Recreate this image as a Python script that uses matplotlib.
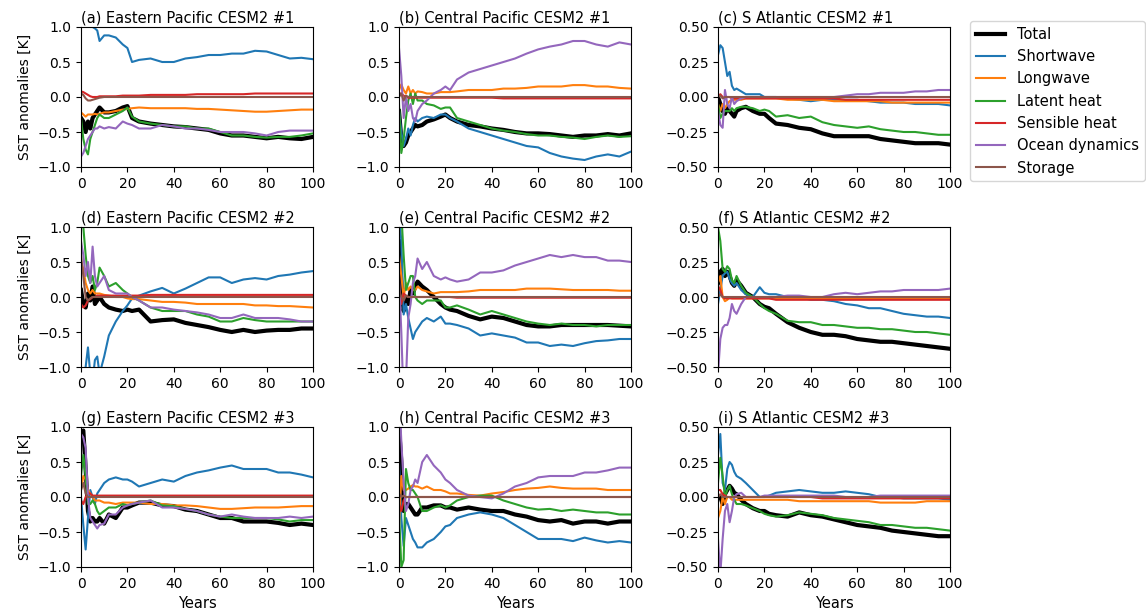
import matplotlib
matplotlib.use("Agg")
import matplotlib.pyplot as plt

years = [0, 1, 2, 3, 4, 5, 6, 7, 8, 10, 12, 15, 18, 20, 22, 25, 30, 35, 40, 45,
         50, 55, 60, 65, 70, 75, 80, 85, 90, 95, 100]

names = ["Total", "Shortwave", "Longwave", "Latent heat", "Sensible heat",
         "Ocean dynamics", "Storage"]

# (a) Eastern Pacific CESM2 #1
a_total = [-0.3, -0.35, -0.5, -0.35, -0.45, -0.3, -0.25, -0.2, -0.15, -0.22, -0.22, -0.2, -0.15, -0.13, -0.3, -0.35, -0.38, -0.4, -0.42, -0.43, -0.45, -0.47, -0.52, -0.55, -0.55, -0.57, -0.59, -0.57, -0.59, -0.6, -0.57]
a_sw = [1.6, 1.2, 1.1, 1.05, 1.0, 1.0, 0.98, 0.95, 0.8, 0.88, 0.88, 0.85, 0.75, 0.7, 0.5, 0.53, 0.55, 0.5, 0.5, 0.55, 0.57, 0.6, 0.6, 0.62, 0.62, 0.66, 0.65, 0.6, 0.55, 0.56, 0.54]
a_lw = [-0.22, -0.25, -0.28, -0.25, -0.25, -0.25, -0.24, -0.25, -0.24, -0.22, -0.22, -0.2, -0.18, -0.17, -0.16, -0.15, -0.16, -0.16, -0.16, -0.16, -0.17, -0.17, -0.18, -0.19, -0.2, -0.21, -0.21, -0.2, -0.19, -0.18, -0.18]
a_lh = [-0.3, -0.6, -0.75, -0.82, -0.6, -0.5, -0.4, -0.3, -0.25, -0.3, -0.3, -0.25, -0.2, -0.15, -0.28, -0.35, -0.38, -0.4, -0.42, -0.42, -0.45, -0.45, -0.5, -0.55, -0.55, -0.57, -0.58, -0.57, -0.57, -0.55, -0.52]
a_sh = [0.08, 0.07, 0.05, 0.03, 0.01, 0.0, 0.0, 0.0, 0.01, 0.01, 0.01, 0.01, 0.02, 0.02, 0.02, 0.02, 0.03, 0.03, 0.03, 0.03, 0.04, 0.04, 0.04, 0.04, 0.04, 0.05, 0.05, 0.05, 0.05, 0.05, 0.05]
a_od = [-0.85, -0.8, -0.7, -0.6, -0.55, -0.5, -0.45, -0.45, -0.42, -0.45, -0.43, -0.45, -0.35, -0.38, -0.4, -0.45, -0.45, -0.4, -0.42, -0.45, -0.45, -0.47, -0.5, -0.5, -0.5, -0.52, -0.55, -0.5, -0.48, -0.48, -0.48]
a_st = [0.05, 0.03, -0.02, -0.05, -0.05, -0.04, -0.03, -0.02, -0.01, 0.0, 0.0, 0.0, 0.0, 0.0, 0.0, 0.0, 0.0, 0.0, 0.0, 0.0, 0.0, 0.0, 0.0, 0.0, 0.0, 0.0, 0.0, 0.0, 0.0, 0.0, 0.0]

# (b) Central Pacific CESM2 #1
b_total = [-0.2, -0.6, -0.7, -0.65, -0.55, -0.5, -0.45, -0.4, -0.42, -0.4, -0.35, -0.32, -0.28, -0.25, -0.3, -0.35, -0.4, -0.42, -0.45, -0.47, -0.5, -0.52, -0.52, -0.53, -0.55, -0.57, -0.55, -0.55, -0.53, -0.55, -0.52]
b_sw = [-0.2, -0.5, -0.7, -0.6, -0.45, -0.55, -0.4, -0.3, -0.35, -0.3, -0.28, -0.3, -0.25, -0.25, -0.3, -0.35, -0.45, -0.5, -0.55, -0.6, -0.65, -0.7, -0.72, -0.8, -0.85, -0.88, -0.9, -0.85, -0.82, -0.85, -0.78]
b_lw = [0.1, 0.18, 0.1, 0.05, 0.15, 0.05, 0.1, 0.05, 0.08, 0.07, 0.05, 0.05, 0.07, 0.07, 0.07, 0.08, 0.1, 0.1, 0.1, 0.12, 0.12, 0.13, 0.15, 0.15, 0.15, 0.17, 0.17, 0.15, 0.15, 0.13, 0.12]
b_lh = [-0.1, -0.8, -0.6, -0.3, -0.05, 0.05, -0.1, 0.05, -0.05, -0.05, -0.1, -0.12, -0.17, -0.15, -0.15, -0.3, -0.35, -0.4, -0.45, -0.48, -0.5, -0.53, -0.55, -0.55, -0.57, -0.58, -0.6, -0.57, -0.55, -0.57, -0.56]
b_sh = [0.05, 0.05, 0.02, 0.0, -0.01, -0.01, -0.01, -0.01, -0.01, -0.01, -0.01, -0.01, -0.01, -0.01, -0.01, -0.01, -0.01, -0.01, -0.01, -0.02, -0.02, -0.02, -0.02, -0.02, -0.02, -0.02, -0.02, -0.02, -0.02, -0.02, -0.02]
b_od = [0.7, 0.3, -0.3, 0.0, -0.2, -0.1, -0.3, -0.35, -0.2, -0.1, -0.05, 0.05, 0.1, 0.15, 0.1, 0.25, 0.35, 0.4, 0.45, 0.5, 0.55, 0.62, 0.68, 0.72, 0.75, 0.8, 0.8, 0.75, 0.72, 0.78, 0.75]
b_st = [0.0, 0.05, -0.05, 0.02, 0.0, 0.0, 0.0, 0.0, 0.0, 0.0, 0.0, 0.0, 0.0, 0.0, 0.0, 0.0, 0.0, 0.0, 0.0, 0.0, 0.0, 0.0, 0.0, 0.0, 0.0, 0.0, 0.0, 0.0, 0.0, 0.0, 0.0]

# (c) S Atlantic CESM2 #1
c_total = [0.0, -0.05, -0.1, -0.12, -0.08, -0.1, -0.12, -0.14, -0.1, -0.08, -0.07, -0.1, -0.12, -0.12, -0.15, -0.19, -0.2, -0.22, -0.23, -0.26, -0.28, -0.28, -0.28, -0.28, -0.3, -0.31, -0.32, -0.33, -0.33, -0.33, -0.34]
c_sw = [0.3, 0.37, 0.35, 0.25, 0.15, 0.18, 0.08, 0.05, 0.06, 0.04, 0.02, 0.02, 0.02, 0.0, 0.0, 0.0, -0.01, -0.02, -0.03, -0.02, -0.02, -0.02, -0.02, -0.03, -0.04, -0.04, -0.04, -0.05, -0.05, -0.05, -0.06]
c_lw = [-0.05, -0.1, -0.05, -0.08, -0.05, -0.03, -0.02, -0.02, -0.02, -0.02, -0.01, -0.01, -0.01, -0.01, -0.01, -0.01, -0.02, -0.02, -0.02, -0.02, -0.03, -0.03, -0.03, -0.03, -0.03, -0.04, -0.04, -0.04, -0.04, -0.04, -0.04]
c_lh = [-0.05, -0.15, -0.12, -0.1, -0.1, -0.1, -0.08, -0.1, -0.08, -0.07, -0.07, -0.08, -0.1, -0.09, -0.1, -0.14, -0.13, -0.15, -0.14, -0.18, -0.2, -0.21, -0.22, -0.21, -0.23, -0.24, -0.25, -0.25, -0.26, -0.27, -0.27]
c_sh = [0.0, 0.02, 0.0, -0.01, 0.0, 0.0, -0.01, -0.01, -0.01, -0.01, -0.01, -0.01, -0.01, -0.01, -0.01, -0.01, -0.01, -0.01, -0.01, -0.01, -0.01, -0.02, -0.02, -0.02, -0.02, -0.02, -0.02, -0.02, -0.02, -0.02, -0.02]
c_od = [-0.1, -0.2, -0.22, 0.05, -0.05, -0.08, 0.0, -0.05, -0.03, -0.01, 0.0, 0.0, 0.0, 0.0, 0.0, 0.0, 0.0, 0.0, 0.0, 0.0, 0.0, 0.01, 0.02, 0.02, 0.03, 0.03, 0.03, 0.04, 0.04, 0.05, 0.05]
c_st = [0.0, 0.01, -0.01, 0.0, 0.0, 0.0, 0.0, 0.0, 0.0, 0.0, 0.0, 0.0, 0.0, 0.0, 0.0, 0.0, 0.0, 0.0, 0.0, 0.0, 0.0, 0.0, 0.0, 0.0, 0.0, 0.0, 0.0, 0.0, 0.0, 0.0, 0.0]

# (d) Eastern Pacific CESM2 #2
d_total = [0.1, -0.1, -0.15, 0.05, -0.05, 0.15, -0.1, -0.05, 0.0, -0.1, -0.15, -0.18, -0.2, -0.18, -0.2, -0.18, -0.35, -0.33, -0.32, -0.37, -0.4, -0.43, -0.47, -0.5, -0.47, -0.5, -0.48, -0.47, -0.47, -0.45, -0.45]
d_sw = [-1.5, -1.3, -1.0, -0.72, -1.1, -1.2, -0.9, -0.85, -1.1, -0.85, -0.55, -0.35, -0.2, -0.12, -0.02, 0.02, 0.08, 0.13, 0.05, 0.12, 0.2, 0.28, 0.28, 0.2, 0.25, 0.27, 0.25, 0.3, 0.32, 0.35, 0.37]
d_lw = [0.5, 0.4, 0.2, 0.1, 0.05, 0.1, 0.05, 0.05, 0.05, 0.03, 0.02, 0.0, 0.0, -0.02, -0.03, -0.03, -0.05, -0.07, -0.07, -0.08, -0.1, -0.1, -0.1, -0.1, -0.1, -0.12, -0.12, -0.13, -0.13, -0.14, -0.15]
d_lh = [1.2, 1.0, 0.6, 0.3, 0.2, 0.3, 0.1, 0.2, 0.42, 0.3, 0.15, 0.2, 0.1, 0.05, 0.0, -0.05, -0.15, -0.2, -0.2, -0.2, -0.25, -0.28, -0.35, -0.35, -0.3, -0.33, -0.35, -0.35, -0.35, -0.35, -0.35]
d_sh = [-0.1, -0.15, -0.12, -0.05, -0.03, 0.0, 0.0, 0.02, 0.02, 0.02, 0.02, 0.02, 0.02, 0.02, 0.02, 0.02, 0.03, 0.03, 0.03, 0.03, 0.03, 0.03, 0.03, 0.03, 0.03, 0.03, 0.03, 0.03, 0.03, 0.03, 0.03]
d_od = [0.8, 0.6, 0.3, 0.5, 0.2, 0.72, 0.3, 0.15, 0.2, 0.3, 0.1, 0.05, 0.05, 0.05, 0.0, -0.05, -0.15, -0.15, -0.18, -0.2, -0.22, -0.25, -0.3, -0.3, -0.25, -0.3, -0.3, -0.3, -0.32, -0.35, -0.35]
d_st = [0.6, 0.3, 0.0, -0.05, -0.02, 0.0, 0.0, 0.0, 0.0, 0.0, 0.0, 0.0, 0.0, 0.0, 0.0, 0.0, 0.0, 0.0, 0.0, 0.0, 0.0, 0.0, 0.0, 0.0, 0.0, 0.0, 0.0, 0.0, 0.0, 0.0, 0.0]

# (e) Central Pacific CESM2 #2
e_total = [0.8, 0.2, -0.2, 0.0, -0.1, 0.1, 0.05, 0.15, 0.22, 0.15, 0.1, 0.0, -0.1, -0.15, -0.18, -0.2, -0.27, -0.32, -0.28, -0.3, -0.35, -0.4, -0.42, -0.42, -0.4, -0.4, -0.4, -0.4, -0.4, -0.41, -0.42]
e_sw = [1.2, 0.8, -0.25, -0.1, -0.3, -0.45, -0.6, -0.5, -0.45, -0.35, -0.3, -0.35, -0.28, -0.38, -0.38, -0.4, -0.45, -0.55, -0.52, -0.55, -0.58, -0.65, -0.65, -0.7, -0.68, -0.7, -0.66, -0.63, -0.62, -0.6, -0.6]
e_lw = [0.6, 0.3, 0.0, 0.2, 0.1, 0.15, 0.1, 0.1, 0.15, 0.1, 0.08, 0.05, 0.07, 0.07, 0.07, 0.07, 0.08, 0.1, 0.1, 0.1, 0.1, 0.12, 0.12, 0.12, 0.11, 0.1, 0.1, 0.1, 0.1, 0.09, 0.09]
e_lh = [1.0, 1.2, 0.6, 0.1, 0.2, 0.3, 0.3, 0.0, -0.05, -0.1, -0.05, -0.05, -0.05, -0.15, -0.15, -0.12, -0.18, -0.25, -0.2, -0.25, -0.3, -0.35, -0.38, -0.4, -0.38, -0.4, -0.4, -0.42, -0.4, -0.4, -0.4]
e_sh = [0.05, -0.1, 0.05, 0.02, 0.0, 0.0, 0.0, 0.0, 0.0, 0.0, 0.0, 0.0, 0.0, 0.0, 0.0, -0.01, -0.01, -0.01, -0.01, -0.01, -0.01, -0.01, -0.01, -0.01, -0.01, -0.01, -0.01, -0.01, -0.01, -0.01, -0.01]
e_od = [0.3, -0.5, -1.5, -1.2, -0.3, -0.1, 0.2, 0.3, 0.55, 0.4, 0.5, 0.3, 0.25, 0.28, 0.25, 0.22, 0.25, 0.35, 0.35, 0.38, 0.45, 0.5, 0.55, 0.6, 0.57, 0.6, 0.57, 0.57, 0.52, 0.52, 0.5]
e_st = [0.1, 0.0, -0.05, 0.02, 0.0, 0.0, 0.0, 0.0, 0.0, 0.0, 0.0, 0.0, 0.0, 0.0, 0.0, 0.0, 0.0, 0.0, 0.0, 0.0, 0.0, 0.0, 0.0, 0.0, 0.0, 0.0, 0.0, 0.0, 0.0, 0.0, 0.0]

# (f) S Atlantic CESM2 #2
f_total = [0.1, 0.18, 0.2, 0.15, 0.18, 0.15, 0.1, 0.08, 0.12, 0.08, 0.03, 0.0, -0.05, -0.07, -0.08, -0.12, -0.18, -0.22, -0.25, -0.27, -0.27, -0.28, -0.3, -0.31, -0.32, -0.32, -0.33, -0.34, -0.35, -0.36, -0.37]
f_sw = [-0.05, 0.05, 0.15, 0.17, 0.18, 0.13, 0.1, 0.08, 0.1, 0.05, 0.02, 0.0, 0.07, 0.03, 0.02, 0.02, 0.0, 0.0, -0.02, -0.02, -0.03, -0.05, -0.06, -0.08, -0.08, -0.1, -0.12, -0.13, -0.14, -0.14, -0.15]
f_lw = [0.1, 0.15, 0.0, -0.03, -0.02, 0.0, -0.01, -0.01, -0.01, -0.01, -0.01, -0.01, -0.01, -0.01, -0.01, -0.01, -0.01, -0.01, -0.01, -0.01, -0.01, -0.01, -0.01, -0.01, -0.01, -0.01, -0.01, -0.01, -0.01, -0.01, -0.01]
f_lh = [0.5, 0.4, 0.2, 0.18, 0.22, 0.2, 0.12, 0.1, 0.15, 0.08, 0.03, 0.0, -0.05, -0.08, -0.1, -0.12, -0.17, -0.18, -0.18, -0.2, -0.2, -0.21, -0.22, -0.22, -0.23, -0.23, -0.24, -0.25, -0.25, -0.26, -0.27]
f_sh = [0.08, 0.05, 0.0, -0.01, -0.01, -0.01, -0.01, -0.01, -0.01, -0.01, -0.01, -0.01, -0.01, -0.01, -0.01, -0.02, -0.02, -0.02, -0.02, -0.02, -0.02, -0.02, -0.02, -0.02, -0.02, -0.02, -0.02, -0.02, -0.02, -0.02, -0.02]
f_od = [-0.55, -0.3, -0.22, -0.2, -0.2, -0.15, -0.05, -0.1, -0.12, -0.05, 0.0, 0.0, 0.0, 0.0, 0.0, 0.0, 0.01, 0.01, 0.0, 0.0, 0.02, 0.03, 0.02, 0.03, 0.04, 0.04, 0.05, 0.05, 0.05, 0.05, 0.06]
f_st = [0.0, 0.02, 0.0, 0.0, 0.0, 0.0, 0.0, 0.0, 0.0, 0.0, 0.0, 0.0, 0.0, 0.0, 0.0, 0.0, 0.0, 0.0, 0.0, 0.0, 0.0, 0.0, 0.0, 0.0, 0.0, 0.0, 0.0, 0.0, 0.0, 0.0, 0.0]

# (g) Eastern Pacific CESM2 #3
g_total = [0.9, 0.95, 0.4, -0.2, -0.35, -0.3, -0.35, -0.35, -0.3, -0.38, -0.25, -0.3, -0.15, -0.15, -0.12, -0.08, -0.08, -0.12, -0.13, -0.18, -0.2, -0.25, -0.3, -0.3, -0.35, -0.35, -0.35, -0.37, -0.4, -0.38, -0.4]
g_sw = [0.0, -0.4, -0.75, -0.3, 0.1, 0.0, -0.1, 0.05, 0.1, 0.2, 0.25, 0.28, 0.25, 0.25, 0.22, 0.15, 0.2, 0.25, 0.22, 0.3, 0.35, 0.38, 0.42, 0.45, 0.4, 0.4, 0.4, 0.35, 0.35, 0.32, 0.28]
g_lw = [0.1, 0.3, 0.25, 0.1, 0.05, 0.0, -0.05, -0.05, -0.05, -0.08, -0.08, -0.1, -0.08, -0.08, -0.08, -0.08, -0.1, -0.1, -0.12, -0.12, -0.13, -0.15, -0.17, -0.17, -0.16, -0.15, -0.15, -0.15, -0.14, -0.13, -0.13]
g_lh = [0.3, 0.6, 0.3, -0.1, -0.1, -0.05, -0.1, -0.2, -0.25, -0.2, -0.15, -0.15, -0.1, -0.12, -0.1, -0.08, -0.05, -0.12, -0.13, -0.17, -0.2, -0.25, -0.28, -0.3, -0.3, -0.3, -0.3, -0.32, -0.35, -0.33, -0.33]
g_sh = [-0.05, -0.1, 0.0, 0.05, 0.05, 0.02, 0.02, 0.02, 0.02, 0.02, 0.02, 0.02, 0.02, 0.02, 0.02, 0.02, 0.02, 0.02, 0.02, 0.02, 0.02, 0.02, 0.02, 0.02, 0.02, 0.02, 0.02, 0.02, 0.02, 0.02, 0.02]
g_od = [0.9, 0.85, 0.7, 0.0, -0.3, -0.35, -0.4, -0.45, -0.4, -0.38, -0.25, -0.25, -0.15, -0.12, -0.1, -0.08, -0.05, -0.15, -0.15, -0.17, -0.2, -0.25, -0.28, -0.25, -0.28, -0.3, -0.3, -0.3, -0.28, -0.3, -0.28]
g_st = [0.1, 0.2, 0.05, 0.0, 0.0, 0.0, 0.0, 0.0, 0.0, 0.0, 0.0, 0.0, 0.0, 0.0, 0.0, 0.0, 0.0, 0.0, 0.0, 0.0, 0.0, 0.0, 0.0, 0.0, 0.0, 0.0, 0.0, 0.0, 0.0, 0.0, 0.0]

# (h) Central Pacific CESM2 #3
h_total = [1.0, 0.5, -0.2, -0.1, -0.1, -0.15, -0.2, -0.25, -0.25, -0.15, -0.15, -0.12, -0.12, -0.15, -0.15, -0.18, -0.15, -0.18, -0.2, -0.2, -0.25, -0.28, -0.33, -0.35, -0.33, -0.38, -0.35, -0.35, -0.38, -0.35, -0.35]
h_sw = [0.5, -0.3, -0.7, -0.3, -0.4, -0.5, -0.6, -0.65, -0.72, -0.72, -0.65, -0.6, -0.5, -0.42, -0.4, -0.3, -0.25, -0.22, -0.25, -0.3, -0.4, -0.5, -0.6, -0.6, -0.6, -0.63, -0.58, -0.62, -0.65, -0.63, -0.65]
h_lw = [-0.4, 0.3, 0.1, 0.1, 0.12, 0.15, 0.17, 0.15, 0.15, 0.12, 0.15, 0.1, 0.1, 0.08, 0.05, 0.05, 0.03, 0.02, 0.05, 0.07, 0.1, 0.12, 0.13, 0.15, 0.13, 0.12, 0.12, 0.12, 0.1, 0.1, 0.1]
h_lh = [-0.2, -1.0, -0.9, 0.4, 0.2, 0.1, 0.1, 0.05, 0.0, -0.2, -0.2, -0.15, -0.12, -0.15, -0.12, -0.05, 0.0, 0.02, 0.02, -0.05, -0.1, -0.15, -0.18, -0.17, -0.2, -0.18, -0.2, -0.22, -0.22, -0.25, -0.25]
h_sh = [-0.1, -0.2, -0.05, 0.0, 0.0, 0.0, 0.0, 0.0, 0.0, 0.0, 0.0, 0.0, 0.0, 0.0, 0.0, 0.0, 0.0, 0.0, 0.0, 0.0, 0.0, 0.0, 0.0, 0.0, 0.0, 0.0, 0.0, 0.0, 0.0, 0.0, 0.0]
h_od = [1.5, 0.8, 0.2, -0.2, -0.1, 0.1, 0.15, 0.25, 0.2, 0.5, 0.6, 0.45, 0.35, 0.25, 0.2, 0.1, 0.02, 0.0, -0.02, 0.05, 0.15, 0.2, 0.28, 0.3, 0.3, 0.3, 0.35, 0.35, 0.38, 0.42, 0.42]
h_st = [0.05, 0.0, 0.02, 0.0, 0.0, 0.0, 0.0, 0.0, 0.0, 0.0, 0.0, 0.0, 0.0, 0.0, 0.0, 0.0, 0.0, 0.0, 0.0, 0.0, 0.0, 0.0, 0.0, 0.0, 0.0, 0.0, 0.0, 0.0, 0.0, 0.0, 0.0]

# (i) S Atlantic CESM2 #3
i_total = [0.0, 0.0, -0.05, 0.02, 0.05, 0.08, 0.06, 0.03, 0.02, -0.02, -0.05, -0.08, -0.1, -0.1, -0.12, -0.13, -0.14, -0.11, -0.13, -0.14, -0.16, -0.18, -0.2, -0.21, -0.22, -0.24, -0.25, -0.26, -0.27, -0.28, -0.28]
i_sw = [0.3, 0.45, 0.1, 0.05, 0.2, 0.25, 0.23, 0.18, 0.15, 0.13, 0.1, 0.05, 0.0, 0.0, 0.01, 0.03, 0.04, 0.05, 0.04, 0.03, 0.03, 0.04, 0.03, 0.02, 0.0, 0.0, -0.01, -0.01, -0.01, -0.01, -0.02]
i_lw = [-0.15, -0.1, 0.0, -0.05, 0.0, 0.0, -0.02, -0.02, -0.02, -0.02, -0.02, -0.02, -0.02, -0.02, -0.02, -0.02, -0.02, -0.03, -0.03, -0.03, -0.03, -0.03, -0.03, -0.03, -0.04, -0.04, -0.04, -0.04, -0.03, -0.03, -0.03]
i_lh = [0.1, 0.28, 0.15, 0.0, 0.05, 0.08, 0.02, -0.02, -0.05, -0.05, -0.06, -0.08, -0.1, -0.12, -0.13, -0.14, -0.13, -0.11, -0.12, -0.13, -0.15, -0.16, -0.17, -0.18, -0.2, -0.2, -0.21, -0.22, -0.22, -0.23, -0.24]
i_sh = [0.05, 0.05, 0.02, 0.01, 0.0, 0.0, 0.0, 0.0, 0.0, 0.0, 0.0, 0.0, 0.0, 0.0, 0.0, 0.0, 0.0, 0.0, 0.0, -0.01, -0.01, -0.01, -0.01, -0.01, -0.01, -0.01, -0.01, -0.01, -0.01, -0.01, -0.01]
i_od = [-0.3, -0.55, -0.3, -0.1, -0.05, -0.18, -0.1, 0.0, 0.02, 0.03, 0.0, 0.0, 0.0, 0.01, 0.01, 0.01, 0.01, 0.01, 0.01, 0.01, 0.01, 0.0, 0.0, 0.0, 0.01, 0.01, 0.01, 0.01, 0.01, 0.01, 0.01]
i_st = [0.0, 0.02, 0.0, 0.0, 0.0, 0.0, 0.0, 0.0, 0.0, 0.0, 0.0, 0.0, 0.0, 0.0, 0.0, 0.0, 0.0, 0.0, 0.0, 0.0, 0.0, 0.0, 0.0, 0.0, 0.0, 0.0, 0.0, 0.0, 0.0, 0.0, 0.0]

panels = [
    ("(a) Eastern Pacific CESM2 #1", [a_total, a_sw, a_lw, a_lh, a_sh, a_od, a_st], 1.0),
    ("(b) Central Pacific CESM2 #1", [b_total, b_sw, b_lw, b_lh, b_sh, b_od, b_st], 1.0),
    ("(c) S Atlantic CESM2 #1", [c_total, c_sw, c_lw, c_lh, c_sh, c_od, c_st], 0.5),
    ("(d) Eastern Pacific CESM2 #2", [d_total, d_sw, d_lw, d_lh, d_sh, d_od, d_st], 1.0),
    ("(e) Central Pacific CESM2 #2", [e_total, e_sw, e_lw, e_lh, e_sh, e_od, e_st], 1.0),
    ("(f) S Atlantic CESM2 #2", [f_total, f_sw, f_lw, f_lh, f_sh, f_od, f_st], 0.5),
    ("(g) Eastern Pacific CESM2 #3", [g_total, g_sw, g_lw, g_lh, g_sh, g_od, g_st], 1.0),
    ("(h) Central Pacific CESM2 #3", [h_total, h_sw, h_lw, h_lh, h_sh, h_od, h_st], 1.0),
    ("(i) S Atlantic CESM2 #3", [i_total, i_sw, i_lw, i_lh, i_sh, i_od, i_st], 0.5),
]

colors = ["black", "tab:blue", "tab:orange", "tab:green", "tab:red", "tab:purple", "tab:brown"]
widths = [3, 1.5, 1.5, 1.5, 1.5, 1.5, 1.5]

W, H = 1146, 614
fig = plt.figure(figsize=(W / 100, H / 100), dpi=100)

lefts = [81, 399, 718]
bottoms = [167, 367, 567]
aw, ah = 232, 140

for k, (title, series, lim) in enumerate(panels):
    r, c = divmod(k, 3)
    ax = fig.add_axes([lefts[c] / W, 1 - bottoms[r] / H, aw / W, ah / H])
    for s, name, col, lw in zip(series, names, colors, widths):
        ax.plot(years, s, color=col, lw=lw, label=name)
    ax.set_xlim(0, 100)
    ax.set_ylim(-lim, lim)
    ax.set_xticks([0, 20, 40, 60, 80, 100])
    if lim == 1.0:
        ax.set_yticks([-1.0, -0.5, 0.0, 0.5, 1.0])
    else:
        ax.set_yticks([-0.5, -0.25, 0.0, 0.25, 0.5])
    ax.set_title(title, loc="left", fontsize=10.5, pad=3)
    ax.tick_params(labelsize=10)
    if c == 0:
        ax.set_ylabel("SST anomalies [K]", fontsize=10)
    if r == 2:
        ax.set_xlabel("Years", fontsize=10.5)
    if k == 0:
        handles, labels = ax.get_legend_handles_labels()

fig.legend(handles, labels, loc="upper left", bbox_to_anchor=(970 / W, 1 - 21 / H),
           borderaxespad=0, fontsize=10.5)

fig.savefig("out.png", dpi=100)
